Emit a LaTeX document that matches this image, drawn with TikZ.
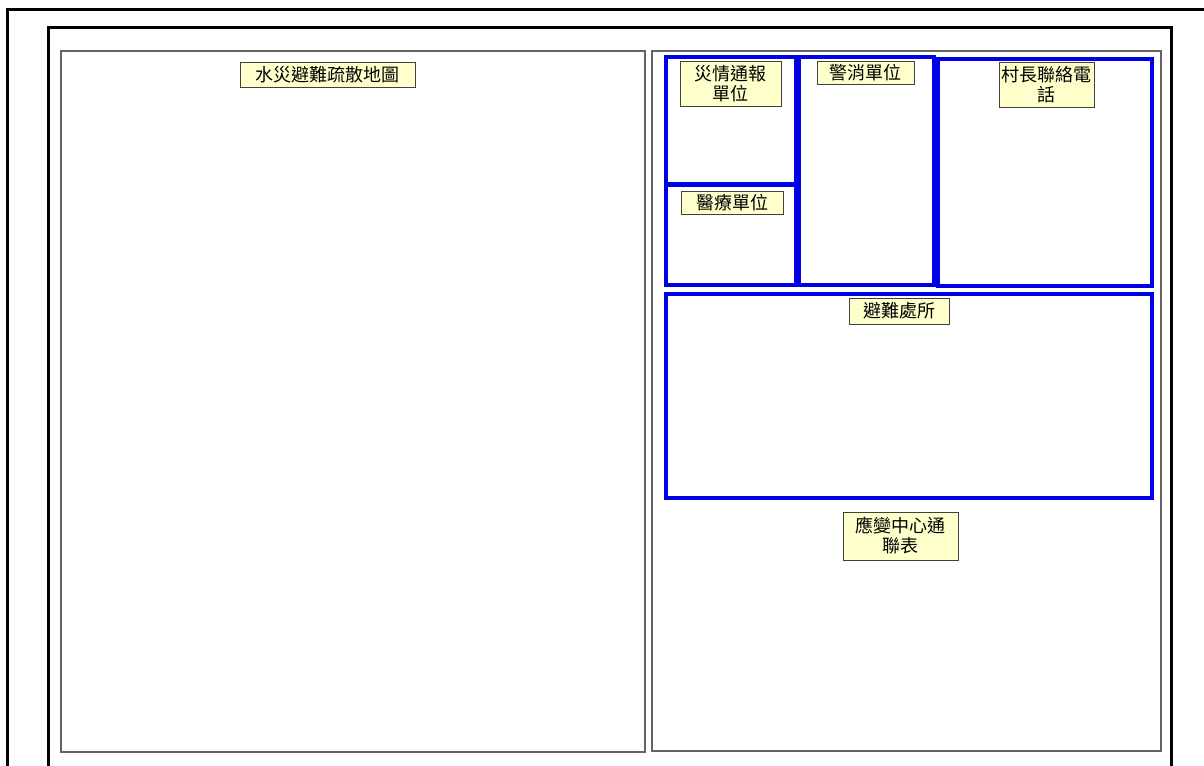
\documentclass[tikz,border=0pt]{standalone}
\usepackage{fontspec}
\newfontfamily\cjk{Noto Sans CJK TC}
\definecolor{framegray}{RGB}{100,100,100}
\definecolor{boxblue}{RGB}{0,0,230}
\definecolor{labelfill}{RGB}{255,255,204}
\definecolor{labeldraw}{RGB}{64,64,64}
\begin{document}
\begin{tikzpicture}[x=0.75pt,y=-0.75pt,
  frameline/.style={draw=black,line width=2.25pt},
  panel/.style={draw=framegray,line width=1.1pt},
  bluebox/.style={draw=boxblue,line width=3pt},
  lbl/.style={draw=labeldraw,line width=0.75pt,fill=labelfill,inner sep=0pt,
    align=center,font=\cjk\fontsize{13.5}{15}\selectfont}]
\useasboundingbox (0,0) rectangle (1204,765);
\fill[white] (0,0) rectangle (1204,765);
% frames
\draw[frameline] (1215,9) -- (7,9) -- (7,775);
\draw[frameline] (48,775) -- (48,27) -- (1171,27) -- (1171,775);
% panels
\draw[panel] (61,51) rectangle (645,752);
\draw[panel] (652,51) rectangle (1161,751);
% blue boxes
\draw[bluebox] (666,57) rectangle (796,184);
\draw[bluebox] (666,185) rectangle (796,285);
\draw[bluebox] (799,57) rectangle (934,285);
\draw[bluebox] (938,59) rectangle (1152,286);
\draw[bluebox] (666,294) rectangle (1152,498);
% labels
\node[lbl,minimum width=131.25pt,minimum height=18.75pt] (map) at (327.5,74.5) {水災避難疏散地圖};
\node[lbl,minimum width=75.75pt,minimum height=33.75pt] (report) at (730.5,83.5) {災情通報\\單位};
\node[lbl,minimum width=76.5pt,minimum height=17.25pt] (medical) at (732,202.5) {醫療單位};
\node[lbl,minimum width=72.75pt,minimum height=17.25pt] (police) at (865.5,72.5) {警消單位};
\node[lbl,minimum width=71.25pt,minimum height=33.75pt] (chief) at (1046.5,84.5) {村長聯絡電\\話};
\node[lbl,minimum width=75pt,minimum height=19.5pt] (shelter) at (899,311) {避難處所};
\node[lbl,minimum width=86.25pt,minimum height=36pt] (center) at (900.5,536) {應變中心通\\聯表};
\end{tikzpicture}
\end{document}
